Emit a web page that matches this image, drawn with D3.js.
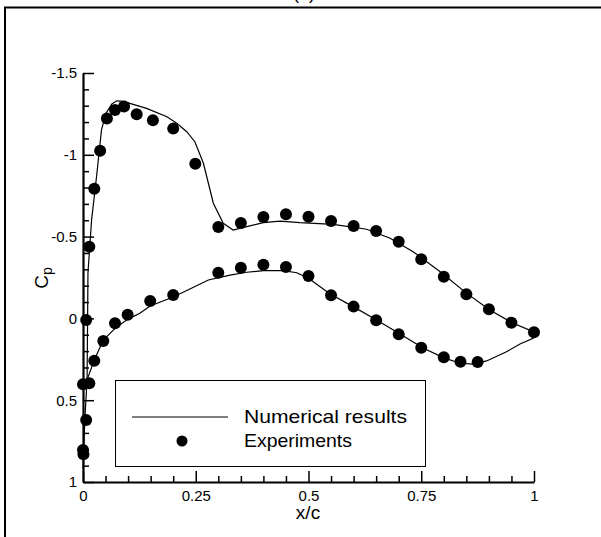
<!DOCTYPE html>
<html><head><meta charset="utf-8">
<script src="https://cdn.jsdelivr.net/npm/d3@7"></script>
<style>
html,body{margin:0;padding:0;background:#fff;}
svg{display:block;font-family:"Liberation Sans",Arial,sans-serif;}
</style></head>
<body>
<svg id="chart" width="601" height="537"></svg>
<script>
// Experimental data: upper surface [x/c, Cp]
const expUpperX = [0.014,0.025,0.038,0.053,0.071,0.091,0.119,0.155,0.200,0.249,0.300,0.350,0.400,0.450,0.500,0.550,0.600,0.650,0.700,0.750,0.800,0.850,0.900,0.950,1.000];
const expUpperCp = [-0.438,-0.793,-1.025,-1.222,-1.274,-1.295,-1.248,-1.211,-1.160,-0.946,-0.559,-0.583,-0.620,-0.636,-0.622,-0.595,-0.565,-0.534,-0.469,-0.361,-0.255,-0.147,-0.056,0.026,0.085];
// Experimental data: lower surface / leading edge
const expLowerX = [0.000,0.001,0.007,0.000,0.014,0.007,0.025,0.045,0.071,0.099,0.149,0.200,0.300,0.350,0.400,0.450,0.500,0.550,0.600,0.650,0.700,0.750,0.800,0.837,0.875];
const expLowerCp = [0.805,0.830,0.621,0.403,0.397,0.010,0.259,0.138,0.030,-0.023,-0.106,-0.143,-0.279,-0.310,-0.328,-0.314,-0.259,-0.141,-0.072,0.012,0.097,0.179,0.238,0.265,0.267];

// Numerical results: upper surface line
const numUpperX = [0.000,0.004,0.009,0.010,0.011,0.019,0.030,0.041,0.051,0.064,0.075,0.089,0.141,0.186,0.208,0.230,0.248,0.267,0.278,0.289,0.311,0.333,0.363,0.400,0.437,0.481,0.555,0.629,0.681,0.732,0.792,0.851,0.902,0.954,0.998,1.000];
const numUpperCp = [0.920,0.620,0.376,0.071,-0.277,-0.601,-0.866,-1.152,-1.254,-1.311,-1.330,-1.327,-1.284,-1.233,-1.193,-1.141,-1.080,-0.948,-0.826,-0.704,-0.581,-0.540,-0.561,-0.585,-0.594,-0.585,-0.575,-0.545,-0.490,-0.408,-0.285,-0.153,-0.051,0.030,0.081,0.083];
// Numerical results: lower surface line
const numLowerX = [0.009,0.025,0.045,0.071,0.099,0.126,0.149,0.200,0.237,0.278,0.326,0.363,0.400,0.444,0.474,0.500,0.548,0.599,0.651,0.703,0.755,0.799,0.836,0.865,0.895,0.939,0.969,0.998,1.000];
const numLowerCp = [0.376,0.254,0.132,0.061,0.006,-0.031,-0.076,-0.131,-0.180,-0.235,-0.265,-0.282,-0.292,-0.292,-0.279,-0.245,-0.149,-0.072,0.010,0.095,0.183,0.240,0.274,0.279,0.260,0.204,0.156,0.122,0.083];

const xMajor = [0,0.25,0.5,0.75,1];
const xMajorLabels = ["0","0.25","0.5","0.75","1"];
const yMajor = [-1.5,-1,-0.5,0,0.5,1];
const yMajorLabels = ["-1.5","-1","-0.5","0","0.5","1"];
const legendLabels = ["Numerical results","Experiments"];

const svg = d3.select("#chart");
const x = d3.scaleLinear().domain([0,1]).range([83,534]);
const y = d3.scaleLinear().domain([-1.5,1]).range([73,482]);

// outer frame (partial)
svg.append("path").attr("d","M5,537 L5,7.5 L601,7.5").attr("fill","none").attr("stroke","#000").attr("stroke-width",2);
// title (cut off at top, as in the reference)
svg.append("text").attr("x",304).attr("y",-1).attr("text-anchor","middle").attr("font-size",18).text("(a)");

// minor ticks
const xMinor = d3.range(0,1.0001,0.05).map(v=>+v.toFixed(2)).filter(v=>!xMajor.includes(v));
const yMinor = d3.range(-1.5,1.0001,0.1).map(v=>+v.toFixed(2)).filter(v=>!yMajor.includes(v));

const gx = svg.append("g").attr("transform","translate(0,482)");
gx.call(d3.axisBottom(x).tickValues(xMinor).tickSize(-6).tickFormat(""));
gx.call(g=>g.selectAll(".domain").remove());
const gx2 = svg.append("g").attr("transform","translate(0,482)");
gx2.call(d3.axisBottom(x).tickValues(xMajor).tickSize(-11).tickSizeOuter(0).tickPadding(8).tickFormat((d,i)=>xMajorLabels[i]));

const gy = svg.append("g").attr("transform","translate(83,0)");
gy.call(d3.axisLeft(y).tickValues(yMinor).tickSize(-6).tickFormat(""));
gy.call(g=>g.selectAll(".domain").remove());
const gy2 = svg.append("g").attr("transform","translate(83,0)");
gy2.call(d3.axisLeft(y).tickValues(yMajor).tickSize(-11).tickSizeOuter(0).tickPadding(6).tickFormat((d,i)=>yMajorLabels[i]));

svg.selectAll(".tick line").attr("stroke","#000").attr("stroke-width",1.5);
svg.selectAll(".domain").attr("stroke","#000").attr("stroke-width",2.2);
svg.selectAll(".tick text").attr("font-size",15).attr("fill","#000").attr("font-family","'Liberation Sans',Arial,sans-serif");
gx2.selectAll(".tick text").attr("dy","0.71em");

// axis titles
svg.append("text").attr("x",308).attr("y",519).attr("text-anchor","middle").attr("font-size",19).text("x/c");
const yl = svg.append("text").attr("transform","translate(48,278) rotate(-90)").attr("text-anchor","middle").attr("font-size",19);
yl.append("tspan").text("C");
yl.append("tspan").attr("font-size",14).attr("dy",4).text("p");

// lines
const line = d3.line().x(d=>x(d[0])).y(d=>y(d[1]));
const upper = numUpperX.map((v,i)=>[v,numUpperCp[i]]);
const lower = numLowerX.map((v,i)=>[v,numLowerCp[i]]);
const plot = svg.append("g");
plot.append("path").datum(upper).attr("d",line).attr("fill","none").attr("stroke","#000").attr("stroke-width",1.2);
plot.append("path").datum(lower).attr("d",line).attr("fill","none").attr("stroke","#000").attr("stroke-width",1.2);

// points
const pts = expUpperX.map((v,i)=>[v,expUpperCp[i]]).concat(expLowerX.map((v,i)=>[v,expLowerCp[i]]));
plot.selectAll("circle.exp").data(pts).enter().append("circle").attr("class","exp")
  .attr("cx",d=>x(d[0])).attr("cy",d=>y(d[1])).attr("r",6).attr("fill","#000");

// legend
const lg = svg.append("g");
lg.append("rect").attr("x",115.5).attr("y",380.5).attr("width",310).attr("height",86).attr("fill","#fff").attr("stroke","#000").attr("stroke-width",1);
lg.append("line").attr("x1",132).attr("x2",228).attr("y1",417).attr("y2",417).attr("stroke","#000").attr("stroke-width",1.2);
lg.append("circle").attr("cx",182).attr("cy",441).attr("r",5.5).attr("fill","#000");
lg.append("text").attr("x",244).attr("y",423).attr("font-size",19).attr("textLength",163).attr("lengthAdjust","spacingAndGlyphs").text(legendLabels[0]);
lg.append("text").attr("x",244).attr("y",447).attr("font-size",19).attr("textLength",108).attr("lengthAdjust","spacingAndGlyphs").text(legendLabels[1]);
</script>
</body></html>
